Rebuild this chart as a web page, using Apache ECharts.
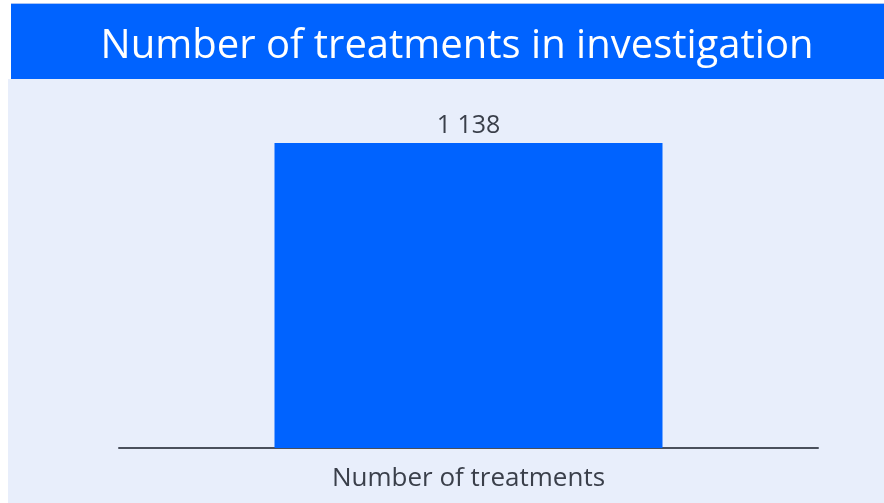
<!DOCTYPE html>
<html><head><meta charset="utf-8">
<script src="https://cdn.jsdelivr.net/npm/echarts@6/dist/echarts.min.js"></script>
<style>html,body{margin:0;padding:0;background:#fff}#c{width:884px;height:503px}</style>
</head><body><div id="c"></div>
<script>
const titleText = "Number of treatments in investigation";
const categories = ["Number of treatments"];
const values = [1138];

const chart = echarts.init(document.getElementById('c'), null, {renderer:'canvas'});
const fmt = v => String(v).replace(/\B(?=(\d{3})+(?!\d))/g, ' ');
chart.setOption({
  animation:false,
  graphic:[
    {type:'rect', z:-10, shape:{x:8,y:79,width:876,height:424}, style:{fill:'#e8eefb'}},
    {type:'rect', z:-10, shape:{x:11,y:3,width:873,height:2}, style:{fill:'#a9c3f5'}},
    {type:'rect', z:-10, shape:{x:11,y:4,width:873,height:75}, style:{fill:'#0063ff'}}
  ],
  title:{text:titleText, left:452, textAlign:'center', top:22,
    textStyle:{color:'#ffffff', fontFamily:'Open Sans', fontWeight:'normal', fontSize:40}},
  grid:{left:119, right:66, top:100, bottom:55},
  xAxis:{type:'category', data:categories,
    axisLine:{lineStyle:{color:'#4a505c', width:2}}, axisTick:{show:false},
    axisLabel:{color:'#3a3f4a', fontFamily:'Open Sans', fontSize:26, margin:18}},
  yAxis:{type:'value', min:0, max:1298, show:false, splitLine:{show:false}},
  series:[{type:'bar', data:values, barWidth:388,
    itemStyle:{color:'#0063ff'},
    label:{show:true, position:'top', distance:5, color:'#3a3f4a', fontFamily:'Open Sans', fontSize:25,
      formatter:p=>fmt(p.value)}}]
});
</script></body></html>
